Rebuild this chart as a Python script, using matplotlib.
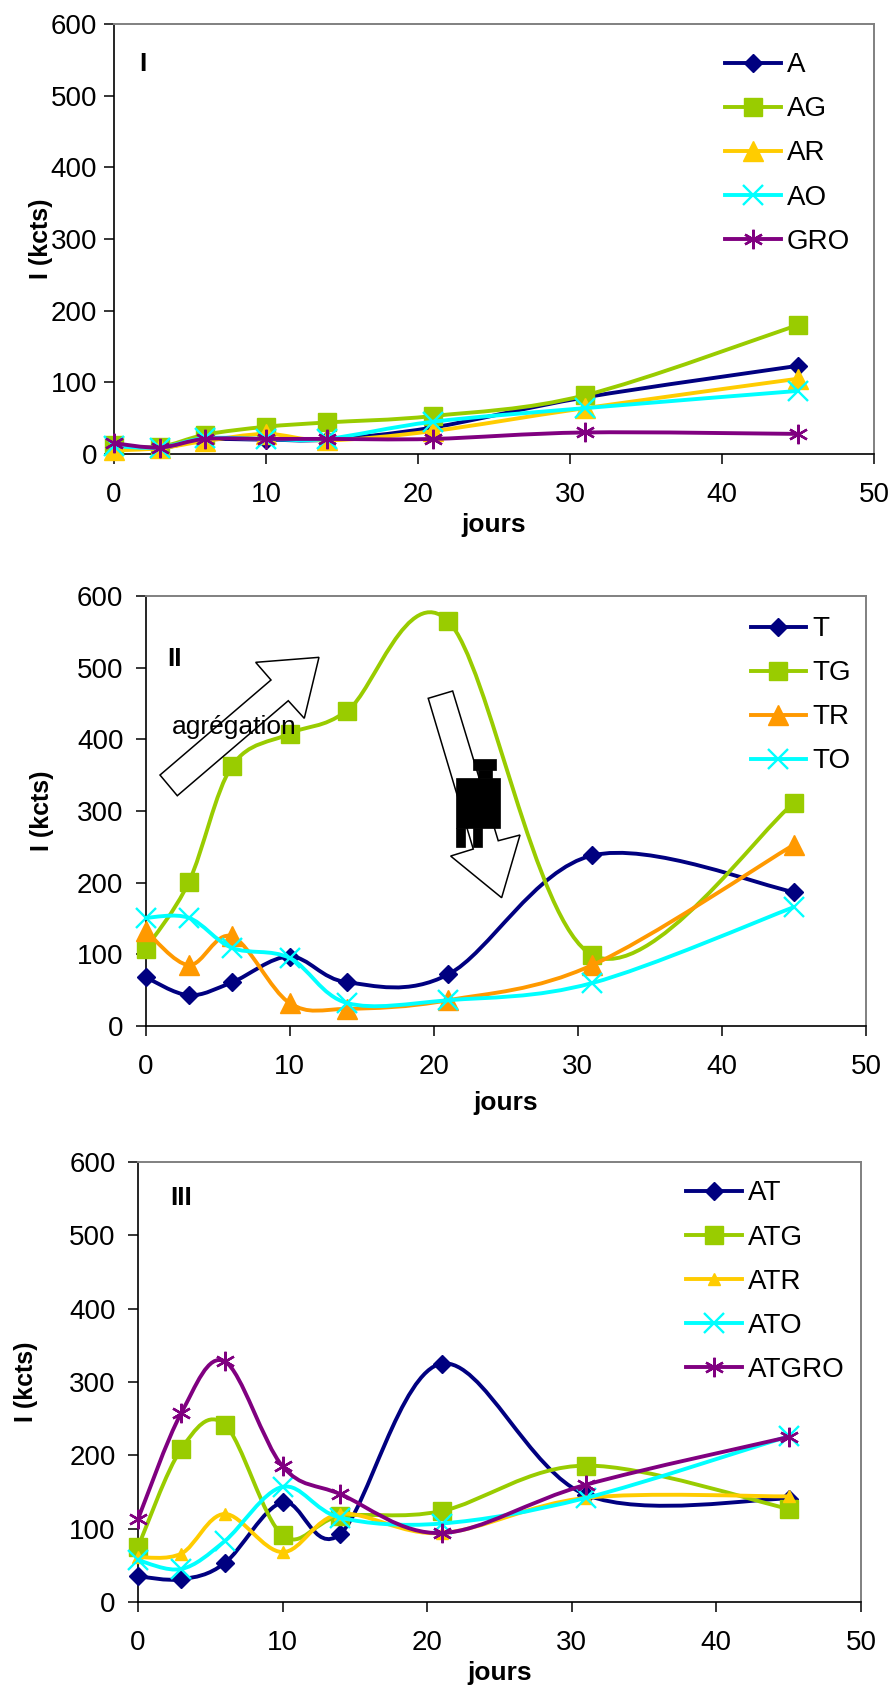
import numpy as np
import matplotlib
matplotlib.use("Agg")
import matplotlib.pyplot as plt
from matplotlib.path import Path
from matplotlib.patches import PathPatch, Polygon, Rectangle
from matplotlib.lines import Line2D

plt.rcParams['font.family'] = ['Liberation Sans', 'DejaVu Sans']

# jours de mesure (communs aux trois graphes)
days = [0, 3, 6, 10, 14, 21, 31, 45]

# graphe I
A = [12, 8, 20, 20, 20, 37, 79, 123]
AG = [12, 10, 27, 38, 44, 53, 82, 180]
AR = [5, 8, 18, 28, 19, 32, 64, 105]
AO = [11, 9, 22, 21, 21, 45, 64, 88]
GRO = [15, 9, 21, 21, 21, 21, 30, 28]

# graphe II
T = [68, 43, 61, 97, 61, 72, 238, 187]
TG = [108, 201, 363, 408, 440, 565, 99, 311]
TR = [133, 85, 125, 32, 24, 36, 85, 253]
TO = [151, 151, 109, 95, 32, 36, 60, 166]

# graphe III
AT = [35, 31, 53, 136, 93, 325, 146, 141]
ATG = [75, 209, 242, 91, 117, 124, 186, 127]
ATR = [61, 66, 120, 68, 120, 94, 142, 144]
ATO = [57, 45, 83, 157, 115, 107, 142, 226]
ATGRO = [113, 258, 328, 185, 147, 94, 160, 225]

NAVY = '#000080'
GREEN = '#99CC00'
GOLD = '#FFCC00'
CYAN = '#00FFFF'
PURPLE = '#800080'
ORANGE = '#FF9900'

# style par type de marqueur : (marker, markersize, mew)
DIAM = ('D', 9, 1)
SQ = ('s', 13.5, 1)
TRI = ('^', 14, 1)
TRI_S = ('^', 8, 1)
XM = ('x', 14, 1.7)
AST = ((6, 2, 0), 14, 1.7)
LW = 2.8


def smooth_path(x, y):
    # lissage type Excel (Bezier / Catmull-Rom)
    pts = np.column_stack([x, y]).astype(float)
    p = np.vstack([pts[0], pts, pts[-1]])
    verts = [pts[0]]
    codes = [Path.MOVETO]
    for i in range(1, len(p) - 2):
        c1 = p[i] + (p[i + 1] - p[i - 1]) / 6
        c2 = p[i + 1] - (p[i + 2] - p[i]) / 6
        verts += [c1, c2, p[i + 1]]
        codes += [Path.CURVE4] * 3
    return Path(verts, codes)


def draw_panel(ax, series, leg_xy, tag, tag_xy, ylab_x, xlab_y, ypad):
    handles = []
    for k, (name, vals, color, style) in enumerate(series):
        mk, ms, mew = style
        ax.add_patch(PathPatch(smooth_path(days, vals), facecolor='none',
                               edgecolor=color, lw=LW, zorder=2 + 2 * k))
        ax.plot(days, vals, ls='none', marker=mk, ms=ms, color=color,
                mec=color, mew=mew, zorder=3 + 2 * k, clip_on=False)
        handles.append(Line2D([], [], color=color, lw=LW, marker=mk, ms=ms,
                              mec=color, mew=mew, label=name))
    ax.legend(handles=handles, loc='upper left', bbox_to_anchor=leg_xy,
              frameon=False, fontsize=20, handlelength=2.0, handletextpad=0.22,
              labelspacing=0.65, borderpad=0, borderaxespad=0, numpoints=1)
    ax.set_xlim(0, 50)
    ax.set_ylim(0, 600)
    ax.set_xticks(range(0, 51, 10))
    ax.set_yticks(range(0, 601, 100))
    ax.tick_params(direction='out', length=7, width=1.1, labelsize=20)
    ax.tick_params(axis='x', pad=13)
    ax.tick_params(axis='y', pad=ypad)
    for s in ('top', 'right'):
        ax.spines[s].set_color('#808080')
        ax.spines[s].set_linewidth(1.4)
    for s in ('left', 'bottom'):
        ax.spines[s].set_color('black')
        ax.spines[s].set_linewidth(1.2)
    ax.set_ylabel('I (kcts)', fontsize=18, fontweight='bold')
    ax.set_xlabel('jours', fontsize=19, fontweight='bold')
    ax.yaxis.set_label_coords(ylab_x, 0.5)
    ax.xaxis.set_label_coords(0.5, xlab_y)
    ax.text(tag_xy[0], tag_xy[1], tag, transform=ax.transAxes, fontsize=19,
            fontweight='bold', ha='left', va='center')


fig = plt.figure(figsize=(8.92, 16.87), dpi=100)
ax1 = fig.add_axes([0.1278, 0.7309, 0.852, 0.2549])
ax2 = fig.add_axes([0.1633, 0.3918, 0.8075, 0.2549])
ax3 = fig.add_axes([0.1547, 0.0504, 0.8105, 0.2608])

draw_panel(ax1, [('A', A, NAVY, DIAM), ('AG', AG, GREEN, SQ),
                 ('AR', AR, GOLD, TRI), ('AO', AO, CYAN, XM),
                 ('GRO', GRO, PURPLE, AST)],
           (0.804, 0.934), 'I', (0.033, 0.907), -0.080, -0.137, 5)

draw_panel(ax2, [('T', T, NAVY, DIAM), ('TG', TG, GREEN, SQ),
                 ('TR', TR, ORANGE, TRI), ('TO', TO, CYAN, XM)],
           (0.840, 0.953), 'II', (0.030, 0.853), -0.127, -0.152, 9)

draw_panel(ax3, [('AT', AT, NAVY, DIAM), ('ATG', ATG, GREEN, SQ),
                 ('ATR', ATR, GOLD, TRI_S), ('ATO', ATO, CYAN, XM),
                 ('ATGRO', ATGRO, PURPLE, AST)],
           (0.758, 0.958), 'III', (0.044, 0.918), -0.138, -0.135, 9)

# flèches et dessin du graphe II
up_arrow = [(0.0199, 0.5837), (0.1740, 0.8047), (0.1527, 0.8458),
            (0.2406, 0.8574), (0.2202, 0.7156), (0.1980, 0.7565),
            (0.0439, 0.5356)]
down_arrow = [(0.3923, 0.7621), (0.4262, 0.7791), (0.4895, 0.4309),
              (0.5197, 0.4442), (0.4942, 0.2984), (0.4234, 0.3953),
              (0.4548, 0.4116)]
for poly in (up_arrow, down_arrow):
    ax2.add_patch(Polygon(poly, closed=True, fill=False, edgecolor='black',
                          lw=1.1, transform=ax2.transAxes, zorder=12))
ax2.text(0.1233, 0.6965, 'agrégation', transform=ax2.transAxes, fontsize=19,
         ha='center', va='center', zorder=13)
for (x0, y0, w, h) in [(0.4308, 0.4605, 0.0611, 0.1162),
                       (0.4308, 0.4163, 0.0125, 0.0442),
                       (0.4544, 0.4163, 0.0125, 0.0442),
                       (0.4544, 0.5953, 0.0319, 0.0256),
                       (0.4613, 0.5767, 0.0195, 0.0186)]:
    ax2.add_patch(Rectangle((x0, y0), w, h, facecolor='black',
                            edgecolor='black', lw=0.5,
                            transform=ax2.transAxes, zorder=14))

fig.savefig('out.png', dpi=100)
